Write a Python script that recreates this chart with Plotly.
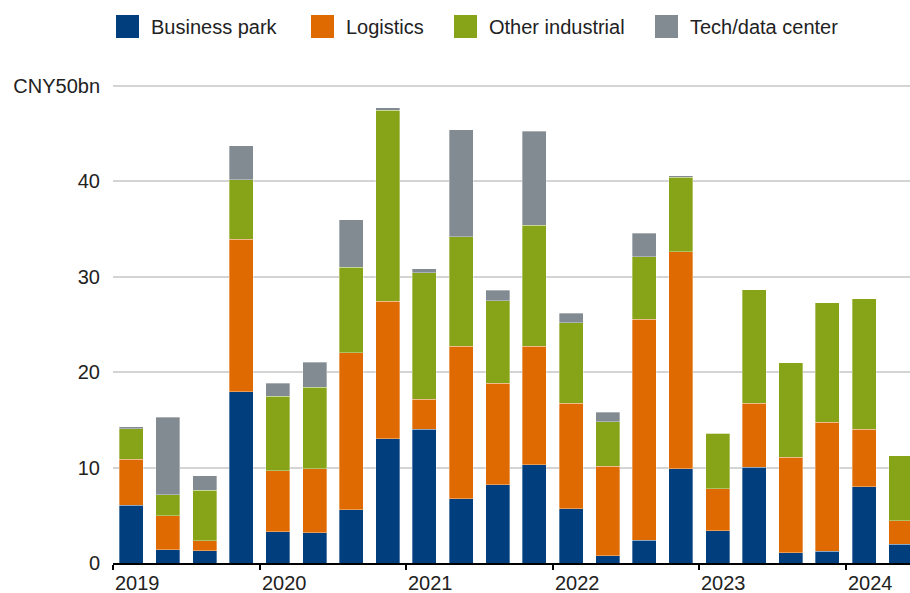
import plotly.graph_objects as go

# Quarterly volumes by property type, CNY bn (2019 Q1 – 2024 Q2)
quarters = [f"{y}Q{q}" for y in range(2019, 2025) for q in range(1, 5)][:22]
business_park = [6.05, 1.37, 1.26, 17.94, 3.25, 3.15, 5.56, 13.01, 14.00, 6.72, 8.18, 10.32,
                 5.71, 0.78, 2.38, 9.86, 3.36, 10.04, 1.05, 1.23, 7.98, 1.99]
logistics = [4.80, 3.57, 1.09, 15.99, 6.44, 6.71, 16.48, 14.42, 3.18, 16.02, 10.68, 12.42,
             11.02, 9.34, 23.16, 22.77, 4.41, 6.69, 10.01, 13.50, 6.02, 2.42]
other_industrial = [3.20, 2.20, 5.25, 6.26, 7.77, 8.54, 8.96, 20.00, 13.22, 11.47, 8.63, 12.66,
                    8.45, 4.68, 6.57, 7.81, 5.81, 11.92, 9.93, 12.52, 13.67, 6.82]
tech_data_center = [0.25, 8.12, 1.57, 3.53, 1.40, 2.66, 4.96, 0.30, 0.45, 11.18, 1.09, 9.83,
                    1.02, 0.98, 2.45, 0.14, 0.0, 0.0, 0.0, 0.0, 0.0, 0.0]

series_names = ["Business park", "Logistics", "Other industrial", "Tech/data center"]
series_values = [business_park, logistics, other_industrial, tech_data_center]
colors = ["#003e7e", "#e06a02", "#87a418", "#828b91"]

year_labels = ["2019", "2020", "2021", "2022", "2023", "2024"]
y_tickvals = [0, 10, 20, 30, 40, 50]
y_ticktext = ["0", "10", "20", "30", "40", "CNY50bn"]

FONT = "Liberation Sans, Arial, Helvetica, sans-serif"
TEXT = "#222222"

W, H = 910, 593
ML, MR, MT, MB = 113, 0, 84, 30
PW, PH = W - ML - MR, H - MT - MB
Y_MAX = 50.2

x_pos = list(range(len(quarters)))
year_ticks = [i - 0.5 for i in range(0, len(quarters), 4)]

fig = go.Figure()
for name, vals, col in zip(series_names, series_values, colors):
    fig.add_trace(go.Bar(
        x=x_pos, y=vals, name=name,
        marker=dict(color=col, line=dict(color="rgba(255,255,255,0.55)", width=0.6)),
        hovertext=quarters, showlegend=False,
    ))


def px_x(px):
    return (px - ML) / PW


def px_y(py):
    return (H - MB - py) / PH


# Legend row: coloured squares with labels
legend_sq_left = [116, 311, 454, 655]
legend_txt_left = [149, 344, 487, 688]
shapes = []
annotations = []
for name, col, sx, tx in zip(series_names, colors, legend_sq_left, legend_txt_left):
    shapes.append(dict(type="rect", xref="paper", yref="paper",
                       x0=px_x(sx), x1=px_x(sx + 23), y0=px_y(38), y1=px_y(15),
                       fillcolor=col, line=dict(width=0)))
    annotations.append(dict(xref="paper", yref="paper", x=px_x(tx), y=px_y(26.5),
                            xanchor="left", yanchor="middle", text=name, showarrow=False,
                            font=dict(family=FONT, size=20, color=TEXT)))

# Year labels sit to the right of each year-boundary tick
for tv, lab in zip(year_ticks, year_labels):
    annotations.append(dict(xref="x", yref="paper", x=tv, y=px_y(583),
                            xanchor="left", yanchor="middle", text=lab, showarrow=False,
                            font=dict(family=FONT, size=20, color=TEXT)))

fig.update_layout(
    width=W, height=H,
    margin=dict(l=ML, r=MR, t=MT, b=MB, pad=0),
    barmode="stack", bargap=0.345,
    plot_bgcolor="white", paper_bgcolor="white",
    font=dict(family=FONT, size=20, color=TEXT),
    shapes=shapes, annotations=annotations,
    showlegend=False,
    xaxis=dict(
        range=[-0.5, -0.5 + PW / 36.64], showgrid=False, zeroline=False,
        showline=True, linecolor="black", linewidth=2,
        tickvals=year_ticks, ticks="outside", ticklen=5, tickwidth=1.5, tickcolor="black",
        showticklabels=False, fixedrange=True,
    ),
    yaxis=dict(
        range=[0, Y_MAX], tickvals=y_tickvals, ticktext=y_ticktext,
        showgrid=True, gridcolor="#d4d4d4", gridwidth=1.5, zeroline=False,
        showline=False, ticks="", ticklabelstandoff=12,
        tickfont=dict(family=FONT, size=20, color=TEXT), fixedrange=True,
    ),
)

fig.write_html("out.html")
